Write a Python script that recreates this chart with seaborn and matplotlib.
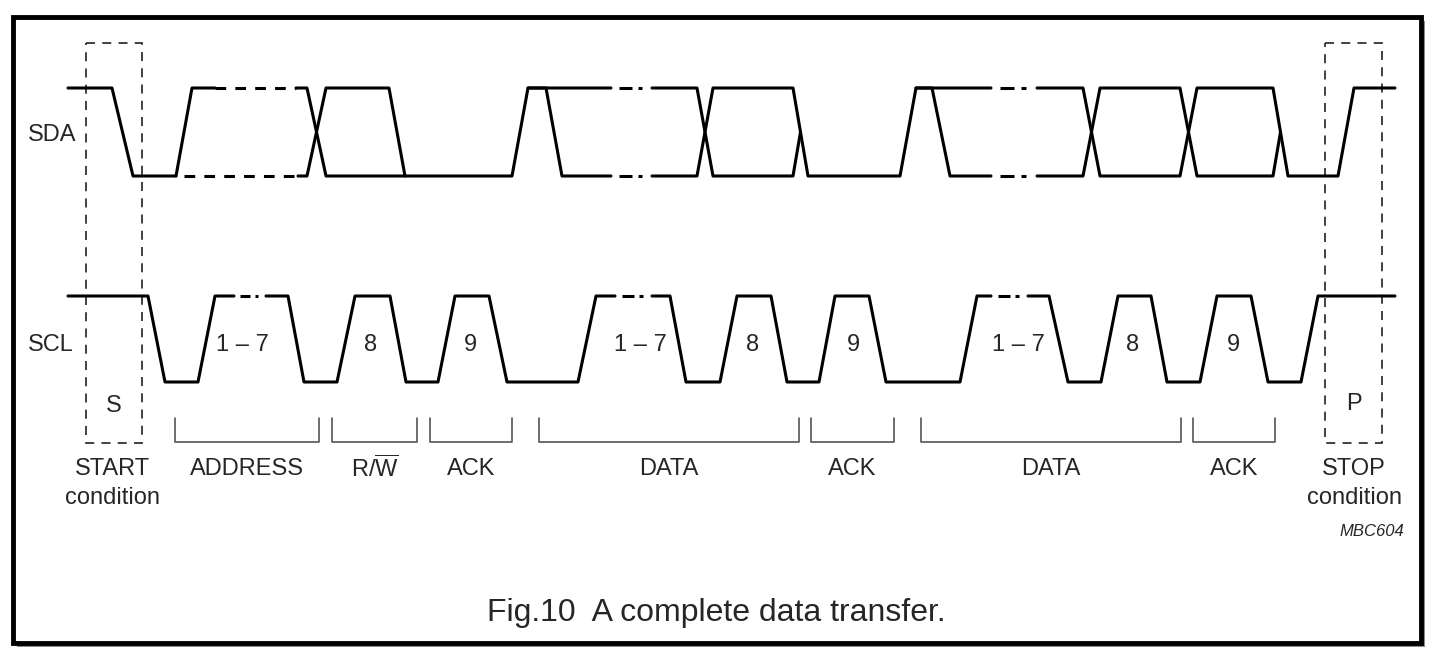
import matplotlib
matplotlib.use("Agg")
import matplotlib.pyplot as plt
import seaborn as sns
from matplotlib.patches import Rectangle

sns.set_theme(style="white")
plt.rcParams['font.family'] = ['Liberation Sans Narrow', 'Liberation Sans', 'DejaVu Sans']
plt.rcParams['mathtext.fontset'] = 'custom'
plt.rcParams['mathtext.rm'] = 'Liberation Sans'

# signal rails (diagram units, y grows downwards)
SDA_H, SDA_L = 88, 176
SCL_H, SCL_L = 296, 382

# SDA polylines: edge times and levels (1 = high, 0 = low, 0.5 = meeting point)
sda_paths = [
    ([68, 112, 133, 176], [1, 1, 0, 0]),
    ([176, 192, 215], [0, 1, 1]),
    ([296, 307, 326, 389, 405, 512, 528, 611], [1, 1, 0, 0, 0.0, 0, 1, 1]),
    ([298, 307, 326, 389, 405], [0, 0, 1, 1, 0]),
    ([528, 546, 562, 611], [1, 1, 0, 0]),
    ([652, 697, 713, 793, 800.5], [1, 1, 0, 0, 0.5]),
    ([652, 697, 713, 793, 808, 900, 916, 991], [0, 0, 1, 1, 0, 0, 1, 1]),
    ([916, 932, 950, 991], [1, 1, 0, 0]),
    ([1037, 1083, 1100, 1180, 1197, 1273, 1288, 1338, 1354, 1395], [1, 1, 0, 0, 1, 1, 0, 0, 1, 1]),
    ([1037, 1083, 1100, 1180, 1197, 1273, 1280.5], [0, 0, 1, 1, 0, 0, 0.5]),
]
# dashed stretches of SDA (first byte)
sda_dashed = [(215, 296, 1), (184, 298, 0)]
# dash-dot breaks (x0, x1, level)
sda_breaks = [(611, 652, 1), (611, 652, 0), (991, 1037, 1), (991, 1037, 0)]

# SCL edges
scl_x = [68, 148, 165, 198, 215, 234]
scl_lv = [1, 1, 0, 0, 1, 1]
scl_x2 = [266, 288, 304, 337, 355, 390, 406, 438, 455, 489, 507, 578, 596, 615]
scl_lv2 = [1, 1, 0, 0, 1, 1, 0, 0, 1, 1, 0, 0, 1, 1]
scl_x3 = [652, 670, 686, 720, 737, 771, 787, 819, 835, 869, 886, 960, 977, 991]
scl_lv3 = [1, 1, 0, 0, 1, 1, 0, 0, 1, 1, 0, 0, 1, 1]
scl_x4 = [1028, 1049, 1068, 1101, 1118, 1151, 1167, 1200, 1217, 1251, 1268, 1301, 1318, 1395]
scl_lv4 = [1, 1, 0, 0, 1, 1, 0, 0, 1, 1, 0, 0, 1, 1]
scl_breaks = [(234, 266), (615, 652), (991, 1028)]

bit_labels = ["1 – 7", "8", "9", "1 – 7", "8", "9", "1 – 7", "8", "9"]
bit_x = [242, 371, 470, 640, 753, 853, 1018, 1133, 1233]

brackets = [(175, 319), (332, 417), (430, 512), (539, 799), (811, 894), (921, 1181), (1193, 1275)]
field_labels = ["ADDRESS", "R/$\\overline{\\rm W}$", "ACK", "DATA", "ACK", "DATA", "ACK"]

def lvl(v, hi, lo):
    return lo + (hi - lo) * v

fig = plt.figure(figsize=(14.36, 6.57), dpi=100)
ax = fig.add_axes([0, 0, 1, 1])
ax.set_xlim(0, 1436)
ax.set_ylim(657, 0)
ax.axis('off')

LW = 2.2
for xs, lv in sda_paths:
    sns.lineplot(x=xs, y=[lvl(v, SDA_H, SDA_L) for v in lv], ax=ax, color='black',
                 lw=LW, sort=False, estimator=None)
for x0, x1, v in sda_dashed:
    y = lvl(v, SDA_H, SDA_L)
    ax.plot([x0, x1], [y, y], color='black', lw=LW, linestyle=(0, (3.5, 3)))

def draw_break(x0, x1, y):
    w = x1 - x0
    ax.plot([x0 + 0.2 * w, x0 + 0.5 * w], [y, y], color='black', lw=LW, solid_capstyle='butt')
    ax.plot([x0 + 0.65 * w, x0 + 0.75 * w], [y, y], color='black', lw=LW, solid_capstyle='butt')

for x0, x1, v in sda_breaks:
    draw_break(x0, x1, lvl(v, SDA_H, SDA_L))

for xs, lv in [(scl_x, scl_lv), (scl_x2, scl_lv2), (scl_x3, scl_lv3), (scl_x4, scl_lv4)]:
    sns.lineplot(x=xs, y=[lvl(v, SCL_H, SCL_L) for v in lv], ax=ax, color='black',
                 lw=LW, sort=False, estimator=None)
for x0, x1 in scl_breaks:
    draw_break(x0, x1, SCL_H)

# dashed START / STOP boxes
for bx0, bx1 in [(86, 142), (1325, 1382)]:
    ax.add_patch(Rectangle((bx0, 43), bx1 - bx0, 400, fill=False, ec='#333333',
                           lw=1.3, linestyle=(0, (5, 4))))

# brackets
for (b0, b1), lab in zip(brackets, field_labels):
    ax.plot([b0, b0, b1, b1], [418, 442, 442, 418], color='#555555', lw=1.2)
    ax.text((b0 + b1) / 2, 469, lab, ha='center', va='center', fontsize=17)

for lab, x in zip(bit_labels, bit_x):
    ax.text(x, 345, lab, ha='center', va='center', fontsize=17)

ax.text(28, 135, "SDA", ha='left', va='center', fontsize=17)
ax.text(28, 345, "SCL", ha='left', va='center', fontsize=17)
ax.text(114, 406, "S", ha='center', va='center', fontsize=17)
ax.text(1354, 404, "P", ha='center', va='center', fontsize=17)
ax.text(112, 469, "START", ha='center', va='center', fontsize=17)
ax.text(112, 498, "condition", ha='center', va='center', fontsize=17)
ax.text(1354, 469, "STOP", ha='center', va='center', fontsize=17)
ax.text(1354, 498, "condition", ha='center', va='center', fontsize=17)
ax.text(1404, 531, "MBC604", ha='right', va='center', fontsize=12, style='italic')
ax.text(716, 613, "Fig.10  A complete data transfer.", ha='center', va='center',
        fontsize=23, family=['Liberation Sans', 'DejaVu Sans'])

# frame with shadow
ax.add_patch(Rectangle((17, 21), 1408, 626, fill=True, fc='#888888', ec='none', zorder=0))
ax.add_patch(Rectangle((13, 17), 1408, 626, fill=True, fc='white', ec='black', lw=3.5, zorder=0.5))

fig.savefig("out.png", dpi=100, facecolor='white')
